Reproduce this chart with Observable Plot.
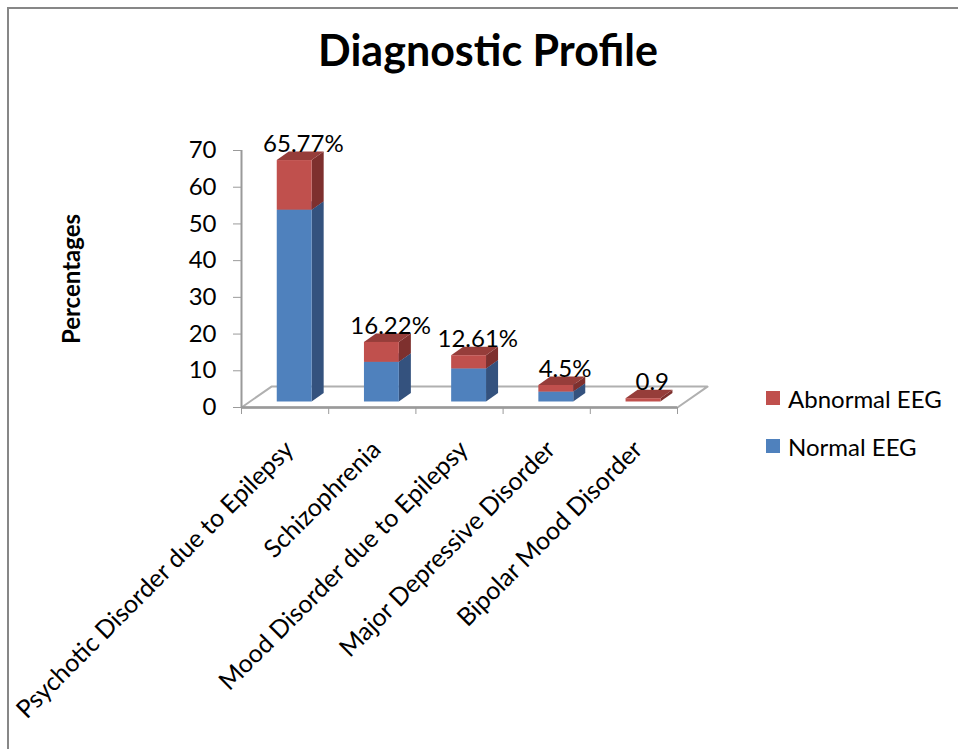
<!DOCTYPE html>
<html>
<head>
<meta charset="utf-8">
<script src="https://cdn.jsdelivr.net/npm/d3@7"></script>
<script src="https://cdn.jsdelivr.net/npm/@observablehq/plot@0.6"></script>
<style>
  html, body { margin: 0; padding: 0; background: #fff; }
  #page { position: relative; width: 958px; height: 749px; overflow: hidden; font-family: Lato, "Open Sans", sans-serif; }
  #frameTop { position: absolute; left: 7px; top: 7px; width: 951px; height: 2px; background: #878787; }
  #frameLeft { position: absolute; left: 7px; top: 7px; width: 2px; height: 742px; background: #878787; }
  #title { position: absolute; left: 0; width: 976px; top: 24px; text-align: center; font-weight: bold; font-size: 43px; color: #000; line-height: normal; }
  #ylabel { position: absolute; left: 70px; top: 279px; transform: translate(-50%, -50%) rotate(-90deg); font-weight: bold; font-size: 24px; white-space: nowrap; }
  #chart { position: absolute; left: 0; top: 0; }
  .leg { position: absolute; left: 766px; font-size: 24px; display: flex; align-items: center; white-space: nowrap; height: 30px; }
  .leg span.sw { width: 14px; height: 14px; display: inline-block; margin-right: 8px; }
</style>
</head>
<body>
<div id="page">
  <div id="chart"></div>
  <div id="frameTop"></div>
  <div id="frameLeft"></div>
  <div id="title">Diagnostic Profile</div>
  <div id="ylabel">Percentages</div>
  <div class="leg" style="top:383px"><span class="sw" style="background:#C0504D"></span>Abnormal EEG</div>
  <div class="leg" style="top:431px"><span class="sw" style="background:#4F81BD"></span>Normal EEG</div>
</div>
<script>
const categories = [
  "Psychotic Disorder due to Epilepsy",
  "Schizophrenia",
  "Mood Disorder due to Epilepsy",
  "Major Depressive Disorder",
  "Bipolar Mood Disorder"
];
const normalEEG   = [52.25, 10.81, 9.01, 2.70, 0];
const abnormalEEG = [13.51, 5.41, 3.60, 1.80, 0.90];
const totalLabels = ["65.77%", "16.22%", "12.61%", "4.5%", "0.9"];
const yTicks = [0, 10, 20, 30, 40, 50, 60, 70];

// 3D look (style constants, in scale units)
const barLeft = 0.41, barWidth = 0.40;   // front face within each category slot
const barBase = 1.5;                      // bars stand slightly behind the floor's front edge
const depthX = 0.138, depthY = 2.3;       // bar depth
const floorX = 0.344, floorY = 5.7;       // floor depth

const series = [
  {name: "Normal EEG", values: normalEEG, front: "#4F81BD", side: "#34527E", top: "#416A9F"},
  {name: "Abnormal EEG", values: abnormalEEG, front: "#C0504D", side: "#7E302E", top: "#963D3A"}
];

const marks = [];

// floor
const n = categories.length;
const floor = [
  {x: 0, y: 0}, {x: n, y: 0}, {x: n + floorX, y: floorY}, {x: floorX, y: floorY}, {x: 0, y: 0}
];
marks.push(Plot.line(floor, {x: "x", y: "y", stroke: "#b0b0b0", strokeWidth: 2}));
marks.push(Plot.ruleY([0], {x1: 0, x2: n, stroke: "#9a9a9a", strokeWidth: 2.5}));
marks.push(Plot.ruleX([0], {y1: 0, y2: 70, stroke: "#9a9a9a", strokeWidth: 2}));

// stacked 3D bars
const cum = categories.map(() => barBase);
for (const s of series) {
  const fronts = [], sides = [], tops = [];
  categories.forEach((c, i) => {
    const v = s.values[i];
    const lo = cum[i], hi = cum[i] + v;
    cum[i] = hi;
    if (v <= 0) return;
    const x0 = i + barLeft, x1 = i + barLeft + barWidth;
    fronts.push({x1: x0, x2: x1, y1: lo, y2: hi});
    sides.push({k: i, x: x1, lo, hi});
    sides.push({k: i, x: x1 + depthX, lo: lo + depthY, hi: hi + depthY});
    tops.push({k: i, y: hi, a: x0, b: x1});
    tops.push({k: i, y: hi + depthY, a: x0 + depthX, b: x1 + depthX});
  });
  marks.push(Plot.areaY(sides, {x: "x", y1: "lo", y2: "hi", z: "k", fill: s.side}));
  marks.push(Plot.areaX(tops, {y: "y", x1: "a", x2: "b", z: "k", fill: s.top}));
  marks.push(Plot.rect(fronts, {x1: "x1", x2: "x2", y1: "y1", y2: "y2", fill: s.front}));
}

// value labels
const labelData = categories.map((c, i) => ({x: i + barLeft + barWidth / 2 + 0.1, y: barBase + normalEEG[i] + abnormalEEG[i] + depthY, t: totalLabels[i]}));
marks.push(Plot.text(labelData, {x: "x", y: "y", text: "t", dy: -8, fontSize: 24, fill: "#000", textAnchor: "middle"}));

// axes
marks.push(Plot.axisY({ticks: yTicks, tickSize: 8, tickPadding: 17, fontSize: 24, stroke: "#9a9a9a", color: "#000", label: null}));
marks.push(Plot.axisX({ticks: d3.range(0, n + 1), tickSize: 7, tickFormat: () => "", stroke: "#9a9a9a", label: null}));
marks.push(Plot.text(categories.map((c, i) => ({x: i + 0.55, t: c})), {
  x: "x", y: () => 0, text: "t", rotate: -45, textAnchor: "end", dy: 38, fontSize: 25, fill: "#000"
}));

const chart = Plot.plot({
  width: 958,
  height: 749,
  marginLeft: 241,
  marginRight: 281,
  marginTop: 150,
  marginBottom: 342,
  style: {fontFamily: "Lato, 'Open Sans', sans-serif", background: "transparent", overflow: "visible"},
  x: {type: "linear", domain: [0, n], axis: null},
  y: {type: "linear", domain: [0, 70], axis: null},
  marks
});
document.getElementById("chart").appendChild(chart);
</script>
</body>
</html>
